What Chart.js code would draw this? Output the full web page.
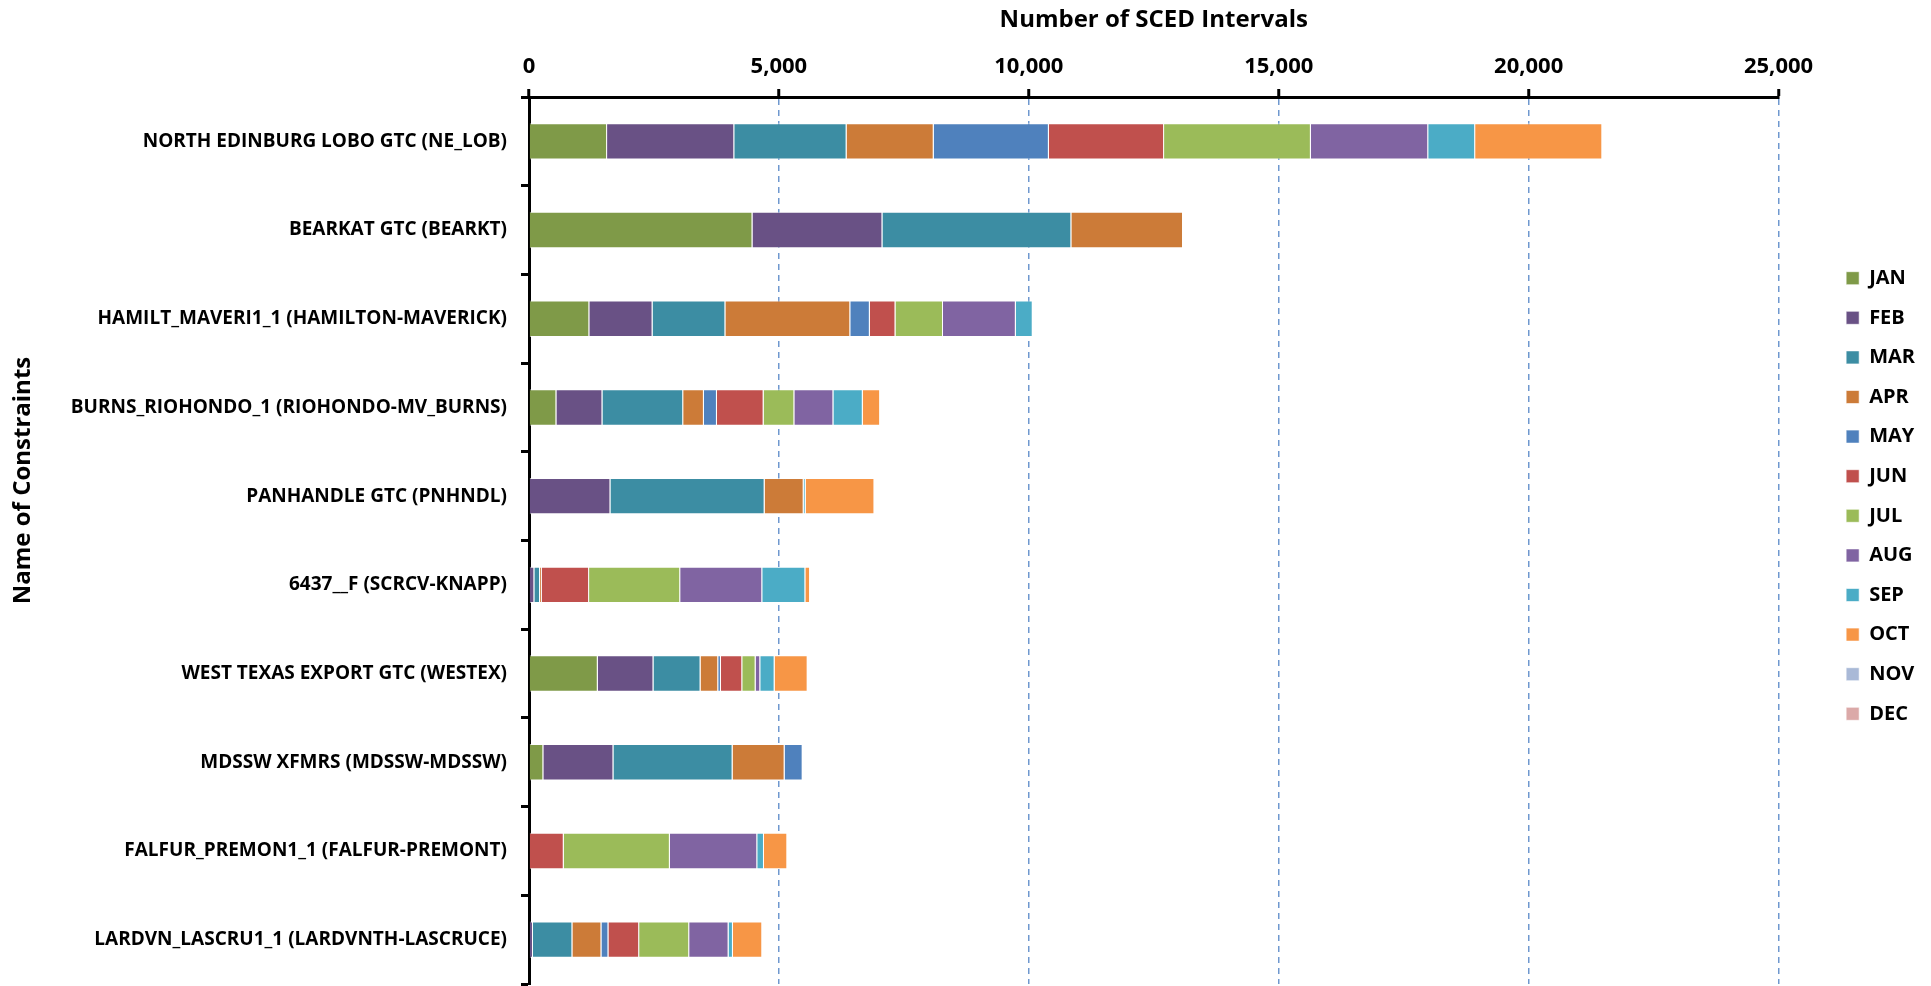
<!DOCTYPE html>
<html>
<head>
<meta charset="utf-8">
<title>Number of SCED Intervals</title>
<script src="https://cdn.jsdelivr.net/npm/chart.js@4.4.1/dist/chart.umd.min.js"></script>
<style>
  html, body { margin: 0; padding: 0; background: #fff; }
  .wrap { position: relative; width: 1931px; height: 986px; }
</style>
</head>
<body>
<div class="wrap"><canvas id="myChart"></canvas></div>
<script>
// constraint names, top to bottom
const constraints = [
  'NORTH EDINBURG LOBO GTC (NE_LOB)',
  'BEARKAT GTC (BEARKT)',
  'HAMILT_MAVERI1_1 (HAMILTON-MAVERICK)',
  'BURNS_RIOHONDO_1 (RIOHONDO-MV_BURNS)',
  'PANHANDLE GTC (PNHNDL)',
  '6437__F (SCRCV-KNAPP)',
  'WEST TEXAS EXPORT GTC (WESTEX)',
  'MDSSW XFMRS (MDSSW-MDSSW)',
  'FALFUR_PREMON1_1 (FALFUR-PREMONT)',
  'LARDVN_LASCRU1_1 (LARDVNTH-LASCRUCE)'
];

const months = ['JAN', 'FEB', 'MAR', 'APR', 'MAY', 'JUN', 'JUL', 'AUG', 'SEP', 'OCT', 'NOV', 'DEC'];

// SCED intervals per month, same order as constraints
const jan = [1562, 4471, 1207, 548, 0, 0, 1376, 287, 0, 0];
const feb = [2545, 2600, 1265, 921, 1629, 107, 1114, 1402, 0, 80];
const mar = [2247, 3780, 1457, 1616, 3085, 113, 942, 2384, 0, 788];
const apr = [1743, 2234, 2499, 414, 781, 34, 354, 1041, 0, 581];
const may = [2304, 0, 391, 261, 0, 0, 54, 361, 0, 140];
const jun = [2305, 0, 513, 934, 0, 948, 427, 0, 695, 615];
const jul = [2937, 0, 951, 615, 0, 1823, 267, 0, 2123, 1001];
const aug = [2348, 0, 1457, 781, 0, 1642, 93, 0, 1749, 788];
const sep = [939, 0, 338, 588, 40, 862, 287, 0, 134, 87];
const oct = [2544, 0, 0, 347, 1376, 94, 661, 0, 467, 587];
const nov = [0, 0, 0, 0, 0, 0, 0, 0, 0, 0];
const dec = [0, 0, 0, 0, 0, 0, 0, 0, 0, 0];

const xTicks = [0, 5000, 10000, 15000, 20000, 25000];

const monthValues = [jan, feb, mar, apr, may, jun, jul, aug, sep, oct, nov, dec];
const monthColors = ['#7f9a48', '#695185', '#3c8da3', '#cc7b38', '#4f81bd', '#c0504d',
                     '#9bbb59', '#8064a2', '#4bacc6', '#f79646', '#a9b9d7', '#dba9a8'];

Chart.defaults.font.family = "'Open Sans', sans-serif";
Chart.defaults.color = '#000';

// push the legend column right of the plot, like the spreadsheet layout,
// and lift the y axis title a bit above the middle of the axis
const layoutNudge = {
  id: 'layoutNudge',
  afterLayout(chart) {
    const lg = chart.legend;
    lg.left += 48;
    lg.right += 48;
    lg.top += 4;
    lg.bottom += 4;

    const ys = chart.scales.y;
    if (!ys._titleLifted) {
      const drawTitle = ys.drawTitle.bind(ys);
      ys.drawTitle = function () {
        this.ctx.save();
        this.ctx.translate(0, -60);
        drawTitle();
        this.ctx.restore();
      };
      ys._titleLifted = true;
    }
  }
};

const ctx = document.getElementById('myChart').getContext('2d');
const myChart = new Chart(ctx, {
  type: 'bar',
  data: {
    labels: constraints,
    datasets: months.map((m, i) => ({
      label: m,
      data: monthValues[i],
      backgroundColor: monthColors[i],
      borderColor: 'rgba(255,255,255,0.6)',
      borderWidth: 1,
      categoryPercentage: 1,
      barPercentage: 0.41
    }))
  },
  options: {
    indexAxis: 'y',
    responsive: true,
    maintainAspectRatio: false,
    animation: false,
    layout: { padding: { top: 0, left: 0, right: 54, bottom: 2 } },
    scales: {
      x: {
        position: 'top',
        stacked: true,
        min: 0,
        max: 25000,
        afterBuildTicks(scale) {
          scale.ticks = xTicks.map(v => ({ value: v }));
        },
        afterFit(scale) { scale.height = 97; },
        ticks: {
          padding: 9,
          font: { size: 22, weight: 'bold' },
          callback: v => v.toLocaleString('en-US')
        },
        grid: {
          color: c => (c.tick && c.tick.value === 0) ? 'rgba(0,0,0,0)' : '#6f98cf',
          lineWidth: 1.5,
          tickColor: '#000',
          tickWidth: 3,
          tickLength: 8
        },
        border: { color: '#000', width: 3, dash: [6, 5] },
        title: {
          display: true,
          text: 'Number of SCED Intervals',
          font: { size: 24, weight: 'bold' },
          padding: { top: 6, bottom: 0 }
        }
      },
      y: {
        stacked: true,
        afterFit(scale) {
          scale.width = 529;
          scale.paddingTop = 0;
          scale.paddingBottom = 0;
        },
        ticks: {
          padding: 14,
          font: { size: 19, weight: 'bold' }
        },
        grid: {
          drawOnChartArea: false,
          offset: true,
          tickColor: '#000',
          tickWidth: 3,
          tickLength: 8
        },
        border: { color: '#000', width: 3 },
        title: {
          display: true,
          text: 'Name of Constraints',
          font: { size: 24, weight: 'bold' },
          padding: { top: 9, bottom: 0 }
        }
      }
    },
    plugins: {
      legend: {
        position: 'right',
        align: 'center',
        labels: {
          boxWidth: 13,
          boxHeight: 13,
          padding: 19.6,
          color: '#000',
          font: { size: 20, weight: 'bold' }
        }
      },
      tooltip: { enabled: false }
    }
  },
  plugins: [layoutNudge]
});
</script>
</body>
</html>
